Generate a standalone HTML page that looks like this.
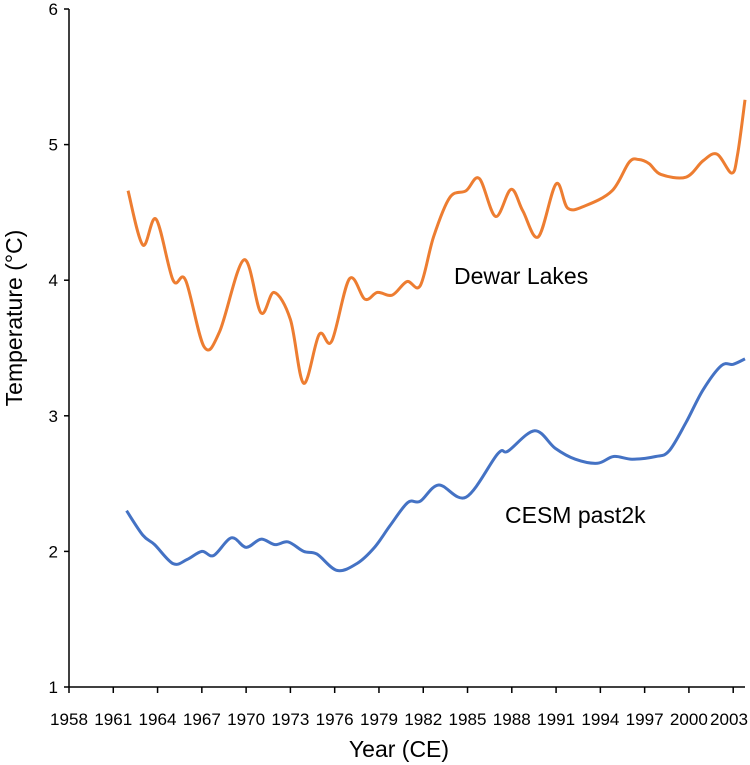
<!DOCTYPE html>
<html><head><meta charset="utf-8"><style>
body{margin:0;background:#fff}
svg{display:block;font-family:"Liberation Sans",sans-serif}
</style></head><body>
<svg id="chart" width="750" height="765"></svg>
<script>
const xTicks=[1958,1961,1964,1967,1970,1973,1976,1979,1982,1985,1988,1991,1994,1997,2000,2003];
const yTicks=[1,2,3,4,5,6];
const dewarYears=[1962.0,1963.0,1963.9,1965.05,1965.9,1967.15,1968.2,1969.85,1971.0,1971.9,1973.0,1973.9,1974.95,1975.8,1977.0,1978.05,1978.9,1979.9,1980.9,1981.8,1982.7,1983.8,1984.9,1985.8,1986.9,1987.95,1988.75,1989.8,1991.0,1991.8,1993.0,1994.8,1995.95,1996.6,1997.3,1998.1,1999.8,2000.95,2001.9,2002.9,2003.3,2003.8];
const dewarTemps=[4.66,4.26,4.45,4.0,4.0,3.51,3.62,4.15,3.76,3.91,3.71,3.24,3.60,3.55,4.01,3.86,3.91,3.89,3.99,3.96,4.32,4.61,4.66,4.75,4.47,4.67,4.51,4.32,4.71,4.53,4.55,4.66,4.87,4.89,4.86,4.78,4.76,4.88,4.93,4.79,4.93,5.33];
const cesmYears=[1961.9,1963.0,1963.8,1965.05,1966.0,1967.0,1967.8,1969.0,1970.0,1971.0,1971.95,1972.85,1973.9,1974.8,1976.15,1977.5,1978.7,1979.75,1980.95,1981.8,1983.05,1984.9,1987.05,1987.75,1989.55,1990.95,1992.3,1993.8,1994.9,1996.15,1997.75,1998.65,1999.8,2000.95,2002.2,2003.0,2003.8];
const cesmTemps=[2.30,2.12,2.05,1.91,1.94,2.0,1.97,2.10,2.03,2.09,2.05,2.07,2.0,1.98,1.86,1.91,2.03,2.19,2.36,2.37,2.49,2.40,2.72,2.74,2.89,2.76,2.68,2.65,2.70,2.68,2.70,2.74,2.95,3.19,3.37,3.38,3.42];

const NS='http://www.w3.org/2000/svg';
const svg=document.getElementById('chart');
const X0=69,PX=14.76,Y1=687,PY=135.6;
function xs(v){return X0+(v-1958)*PX;}
function ys(v){return Y1-(v-1)*PY;}
function mk(t,a,p){const e=document.createElementNS(NS,t);for(const k in a)e.setAttribute(k,a[k]);(p||svg).appendChild(e);return e;}

const axes=mk('g',{});


const yAxis=mk('line',{x1:X0,y1:ys(6),x2:X0,y2:Y1,stroke:'#000','stroke-width':1.5},axes);


const xAxis=mk('line',{x1:X0,y1:Y1,x2:745,y2:Y1,stroke:'#000','stroke-width':1.5},axes);


yTicks.forEach(v=>{
  mk('line',{x1:X0-5,y1:ys(v),x2:X0,y2:ys(v),stroke:'#000','stroke-width':1.5},axes);
  const t=mk('text',{x:X0-11,y:ys(v)+6,'text-anchor':'end','font-size':17},axes);
  t.textContent=v;
  
  
});
xTicks.forEach(v=>{
  mk('line',{x1:xs(v),y1:Y1,x2:xs(v),y2:Y1+6,stroke:'#000','stroke-width':1.5},axes);
  const cx=Math.min(xs(v),748-19);
  const t=mk('text',{x:cx-19,y:725,'text-anchor':'start','font-size':17,textLength:38,lengthAdjust:'spacingAndGlyphs'},axes);
  t.textContent=v;
  
  
});
function path(years,vals,color,name){
  const p=years.map((y,i)=>[xs(y),ys(vals[i])]);
  let d='M'+p[0][0]+','+p[0][1];
  for(let i=0;i<p.length-1;i++){
    const a=p[Math.max(0,i-1)],b=p[i],c=p[i+1],e=p[Math.min(p.length-1,i+2)];
    const c1=[b[0]+(c[0]-a[0])/6,b[1]+(c[1]-a[1])/6],c2=[c[0]-(e[0]-b[0])/6,c[1]-(e[1]-b[1])/6];
    d+=' C'+c1[0]+','+c1[1]+' '+c2[0]+','+c2[1]+' '+c[0]+','+c[1];
  }
  const el=mk('path',{d:d,fill:'none',stroke:color,'stroke-width':3,'stroke-linejoin':'round'});
  
  
}
path(dewarYears,dewarTemps,'#ED7D31','dewar-lakes-line');
path(cesmYears,cesmTemps,'#4472C4','cesm-past2k-line');
function label(txt,x,y,size,name,rot){
  const t=mk('text',{x:x,y:y,'font-size':size,'text-anchor':rot?'middle':'start'});
  if(rot)t.setAttribute('transform','rotate(-90 '+x+' '+y+')');
  t.textContent=txt;
  
  
  return t;
}
label('Dewar Lakes',454,284,23,'dewar-lakes-label');
label('CESM past2k',505,523,23,'cesm-past2k-label');
const xt=label('Year (CE)',399,757,23,'x-axis-title');xt.setAttribute('text-anchor','middle');
label('Temperature (°C)',22,318,23,'y-axis-title',true);
</script>
</body></html>
